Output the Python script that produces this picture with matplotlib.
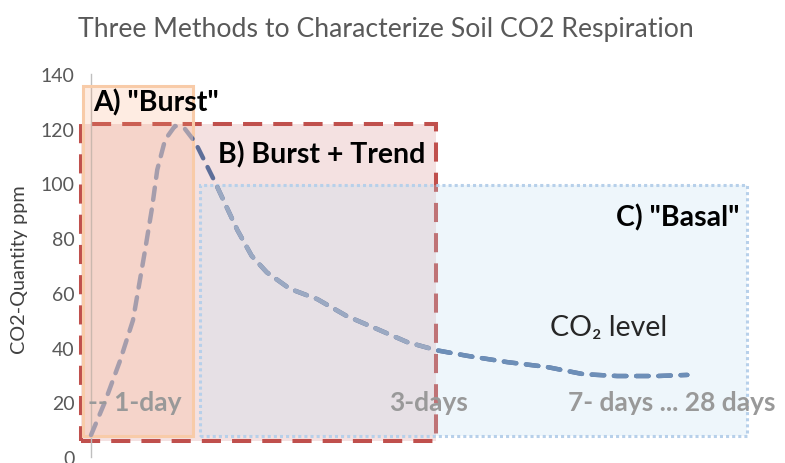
import matplotlib
matplotlib.use("Agg")
import matplotlib.pyplot as plt
from matplotlib.patches import Rectangle

plt.rcParams['font.family'] = ['Lato', 'DejaVu Sans']

# ---- data -------------------------------------------------------------
time_units = [0, 2.1, 4.4, 6.4, 8.2, 9.3, 10.1, 11.3, 12.8, 14.3, 15.9, 18.9,
              22.3, 24.5, 26.8, 30.3, 34.5, 39.0, 43.6, 48.2, 52.7, 57.3,
              63.4, 69.5, 75.0, 80.2, 86.3, 90.9]
co2_ppm = [8, 20, 35, 50, 75, 91, 105, 116, 121, 120, 115, 100.5,
           83, 73.5, 67.5, 61.5, 57.7, 51.5, 46.8, 42, 39, 37,
           34.7, 32.9, 30.3, 29.6, 29.6, 30]
y_ticks = [0, 20, 40, 60, 80, 100, 120, 140]

# method windows: (x0, x1, y0, y1) in data units
window_A = (-1.2, 15.55, 7.7, 135.6)
window_B = (-1.5, 52.6, 5.8, 121.7)
window_C = (16.6, 100.0, 7.7, 99.4)

title = "Three Methods to Characterize Soil CO2 Respiration"
y_label = "CO2-Quantity ppm"

# ---- figure -------------------------------------------------------------
fig = plt.figure(figsize=(7.85, 4.64), dpi=100)
ax = fig.add_axes([60/785, 6/464, 725/785, 383/464])
ax.set_xlim(-4.726, 105.79)
ax.set_ylim(0, 140)


def win(w, fc, falpha, ec, lw, ls, z):
    x0, x1, y0, y1 = w
    ax.add_patch(Rectangle((x0, y0), x1 - x0, y1 - y0, facecolor=fc,
                           alpha=falpha, edgecolor='none', zorder=z, clip_on=False))
    ax.add_patch(Rectangle((x0, y0), x1 - x0, y1 - y0, facecolor='none',
                           edgecolor=ec, lw=lw, ls=ls, zorder=z + 0.1, clip_on=False))


win(window_B, "#c0504d", 0.17, "#c0504d", 2.9, (0, (4.75, 2.75)), 2)
win(window_C, "#bfdff3", 0.25, "#b7d0ea", 2.2, (0, (1, 1)), 3)
win(window_A, "#faa06e", 0.20, "#f8cba8", 2.2, '-', 4)

# the CO2 curve, shaded as it appears through each window
segments = [
    ((window_A[1], -10, 200, 200), "#5d6e99"),            # B only
    ((window_C[0], -10, window_B[1] - window_C[0], window_C[3] + 10), "#9ba9c2"),  # B and C
    ((window_B[1], -10, 200, 200), "#6d8fb8"),            # C only
    ((-10, -10, window_A[1] + 10, 200), "#a59dac"),       # A and B
]
for (cx, cy, cw, ch), col in segments:
    ln, = ax.plot(time_units, co2_ppm, color=col, lw=3.2, ls=(0, (2.8, 2.2)),
                  dash_capstyle='round', zorder=5)
    clip = Rectangle((cx, cy), cw, ch, transform=ax.transData)
    ln.set_clip_path(clip)

# axes styling
for s in ['top', 'right', 'bottom']:
    ax.spines[s].set_visible(False)
ax.spines['left'].set_position(('data', 0))
ax.spines['left'].set_color('#bfbfbf')
ax.spines['left'].set_linewidth(1.0)
ax.set_xticks([])
ax.set_yticks(y_ticks)
ax.tick_params(axis='y', length=0, pad=12, labelsize=14, labelcolor='#595959')

fig.text(78/785, 1 - 30/464, title, fontsize=19.2, color='#595959',
         ha='left', va='center')
fig.text(20/785, 1 - 270/464, y_label, fontsize=14.3, color='#404040',
         rotation=90, ha='center', va='center')

# annotations
ax.text(0.3, 129.7, 'A) "Burst"', fontsize=20.5, fontweight='bold',
        color='black', ha='left', va='center', zorder=6)
ax.text(19.4, 110.7, 'B) Burst + Trend', fontsize=20.5, fontweight='bold',
        color='black', ha='left', va='center', zorder=6)
ax.text(98.9, 87.7, 'C) "Basal"', fontsize=20.5, fontweight='bold',
        color='black', ha='right', va='center', zorder=6)
ax.text(70.0, 47.5, 'CO₂ level', fontsize=20.5, color='#262626',
        ha='left', va='center', zorder=6)
ax.text(-0.5, 20, '-- 1-day', fontsize=19, fontweight='bold',
        color='#999999', ha='left', va='center', zorder=6)
ax.text(57.5, 20, '3-days', fontsize=19, fontweight='bold',
        color='#999999', ha='right', va='center', zorder=6)
ax.text(72.7, 20, '7- days ... 28 days', fontsize=19, fontweight='bold',
        color='#999999', ha='left', va='center', zorder=6, clip_on=False)

fig.savefig("out.png", dpi=100)
